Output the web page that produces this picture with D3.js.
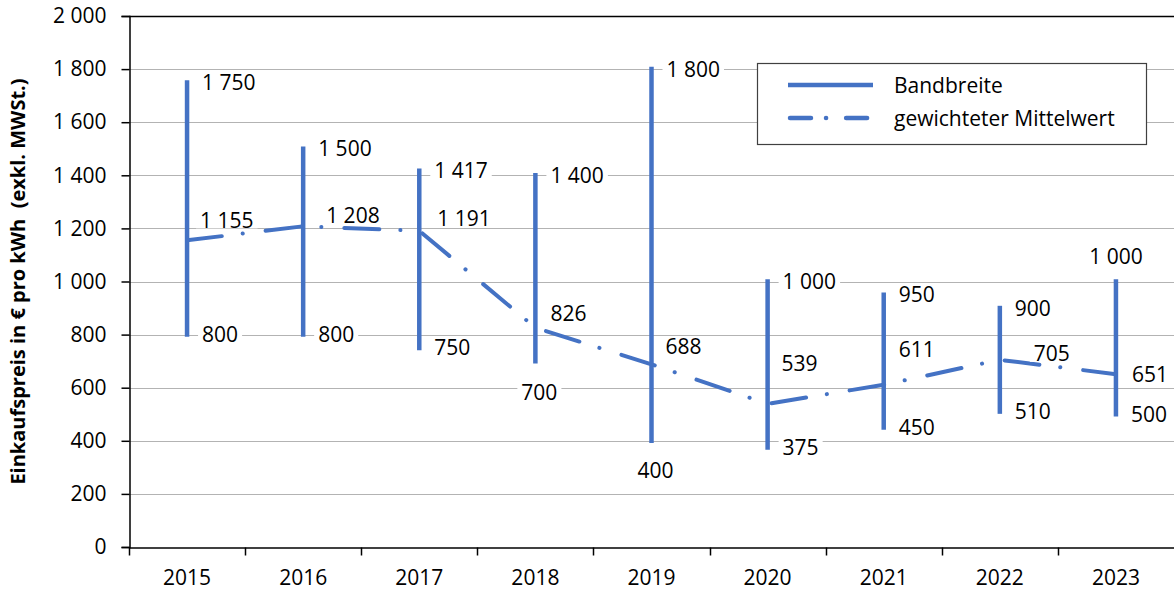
<!DOCTYPE html>
<html>
<head>
<meta charset="utf-8">
<script src="https://cdn.jsdelivr.net/npm/d3@7"></script>
<style>
  body { margin: 0; background: #fff; }
  svg text { font-family: "Open Sans", "Noto Sans", sans-serif; fill: #000; }
</style>
</head>
<body>
<svg id="chart"></svg>
<script>
// data
const years = ['2015', '2016', '2017', '2018', '2019', '2020', '2021', '2022', '2023'];
const maxValues = [1750, 1500, 1417, 1400, 1800, 1000, 950, 900, 1000];
const minValues = [800, 800, 750, 700, 400, 375, 450, 510, 500];
const meanValues = [1155, 1208, 1191, 826, 688, 539, 611, 705, 651];
const yTicks = [0, 200, 400, 600, 800, 1000, 1200, 1400, 1600, 1800, 2000];
const yTitle = 'Einkaufspreis in € pro kWh  (exkl. MWSt.)';
const legendNames = ['Bandbreite', 'gewichteter Mittelwert'];

// label placement (dx, dy from the point, anchor)
const maxLabelPos = [[15, 0, 'start'], [15, 0, 'start'], [15, 0, 'start'], [15, 0, 'start'], [15, 0, 'start'],
  [15, 0, 'start'], [15, 0, 'start'], [15, 0, 'start'], [0, -25, 'middle']];
const minLabelPos = [[15, 0, 'start'], [15, 0, 'start'], [15, 0, 'start'], [4, 31, 'middle'], [4, 30, 'middle'],
  [15, 0, 'start'], [15, 0, 'start'], [15, 0, 'start'], [15, 0, 'start']];
const meanLabelPos = [[13, -20, 'start'], [23, -11, 'start'], [18, -12, 'start'], [15, -14, 'start'], [14, -18, 'start'],
  [14, -40, 'start'], [15, -35, 'start'], [34, -6, 'start'], [16, 0, 'start']];

const W = 1174, H = 593;
const margin = {top: 16, right: 0, bottom: 46, left: 129};
const blue = '#4472C4';
const fontSize = 21;

const fmt = d3.formatLocale({decimal: ',', thousands: ' ', grouping: [3], currency: ['', '€']}).format(',d');

const svg = d3.select('#chart').attr('width', W).attr('height', H);
svg.append('rect').attr('width', W).attr('height', H).attr('fill', '#fff');

const x = d3.scaleBand().domain(years).range([margin.left, W - margin.right]);
const y = d3.scaleLinear().domain([0, 2000]).range([H - margin.bottom, margin.top]);
const cx = d => x(d) + x.bandwidth() / 2;

// gridlines
svg.append('g')
  .selectAll('line')
  .data(yTicks.filter(t => t > 0))
  .join('line')
  .attr('x1', margin.left)
  .attr('x2', W - margin.right)
  .attr('y1', d => Math.round(y(d)) + 0.5)
  .attr('y2', d => Math.round(y(d)) + 0.5)
  .attr('stroke', d => d === 2000 ? '#000' : '#b3b3b3')
  .attr('stroke-width', d => d === 2000 ? 1.5 : 1);

// bands (min..max)
svg.append('g')
  .selectAll('line')
  .data(years)
  .join('line')
  .attr('x1', cx)
  .attr('x2', cx)
  .attr('y1', (d, i) => y(minValues[i]))
  .attr('y2', (d, i) => y(maxValues[i]))
  .attr('stroke', blue)
  .attr('stroke-width', 4.5)
  .attr('stroke-linecap', 'square');

// weighted mean
const line = d3.line()
  .x((d, i) => cx(years[i]))
  .y(d => y(d));

svg.append('path')
  .datum(meanValues)
  .attr('d', line)
  .attr('fill', 'none')
  .attr('stroke', blue)
  .attr('stroke-width', 4)
  .attr('stroke-linecap', 'round')
  .attr('stroke-linejoin', 'round')
  .attr('stroke-dasharray', '35 21 0.1 23');

// data labels with white boxes
const labels = svg.append('g');
const addLabels = (values, pos) => {
  values.forEach((v, i) => {
    const g = labels.append('g');
    const t = g.append('text')
      .attr('x', cx(years[i]) + pos[i][0])
      .attr('y', y(v) + pos[i][1])
      .attr('dy', '0.36em')
      .attr('text-anchor', pos[i][2])
      .style('font-size', fontSize + 'px')
      .text(fmt(v));
    const b = t.node().getBBox();
    g.insert('rect', 'text')
      .attr('x', b.x - 4)
      .attr('y', y(v) + pos[i][1] - 8)
      .attr('width', b.width + 8)
      .attr('height', 16)
      .attr('fill', '#fff');
  });
};
addLabels(maxValues, maxLabelPos);
addLabels(minValues, minLabelPos);
addLabels(meanValues, meanLabelPos);

// y axis
const yAxis = svg.append('g')
  .attr('transform', `translate(${margin.left + 0.5},0)`)
  .call(d3.axisLeft(y).tickValues(yTicks).tickSize(8).tickPadding(15).tickFormat(fmt));
yAxis.select('.domain').attr('stroke', '#000').attr('stroke-width', 1.5);
yAxis.selectAll('.tick line').attr('stroke', '#000').attr('stroke-width', 1.5);
yAxis.selectAll('.tick text').style('font-size', fontSize + 'px').style('font-family', '"Open Sans", sans-serif');

// x axis
const xAxis = svg.append('g')
  .attr('transform', `translate(0,${H - margin.bottom + 0.5})`)
  .call(d3.axisBottom(x).tickSize(0).tickPadding(23));
xAxis.select('.domain').attr('stroke', '#000').attr('stroke-width', 1.5);
xAxis.selectAll('.tick text').style('font-size', fontSize + 'px').style('font-family', '"Open Sans", sans-serif');
xAxis.append('g')
  .selectAll('line')
  .data(years)
  .join('line')
  .attr('x1', d => Math.round(x(d)) + 0.5)
  .attr('x2', d => Math.round(x(d)) + 0.5)
  .attr('y1', 0)
  .attr('y2', 8)
  .attr('stroke', '#000')
  .attr('stroke-width', 1.5);

// y axis title
svg.append('text')
  .attr('transform', `translate(25,${(margin.top + H - margin.bottom) / 2}) rotate(-90)`)
  .attr('text-anchor', 'middle')
  .style('font-size', '20px')
  .style('font-weight', 'bold')
  .style('white-space', 'pre')
  .text(yTitle);

// legend
const legend = svg.append('g');
legend.append('rect')
  .attr('x', 757.5).attr('y', 63.5)
  .attr('width', 389).attr('height', 81)
  .attr('fill', '#fff')
  .attr('stroke', '#404040')
  .attr('stroke-width', 1.2);
const legendY = [85, 118];
legend.selectAll('line')
  .data(legendNames)
  .join('line')
  .attr('x1', (d, i) => i === 0 ? 788 : 790)
  .attr('x2', (d, i) => i === 0 ? 873 : 882)
  .attr('y1', (d, i) => legendY[i])
  .attr('y2', (d, i) => legendY[i])
  .attr('stroke', blue)
  .attr('stroke-width', 4.5)
  .attr('stroke-linecap', (d, i) => i === 0 ? 'butt' : 'round')
  .attr('stroke-dasharray', (d, i) => i === 0 ? null : '21 15 0.1 20');
legend.selectAll('text')
  .data(legendNames)
  .join('text')
  .attr('x', 894)
  .attr('y', (d, i) => legendY[i])
  .attr('dy', '0.36em')
  .style('font-size', fontSize + 'px')
  .text(d => d);
</script>
</body>
</html>
